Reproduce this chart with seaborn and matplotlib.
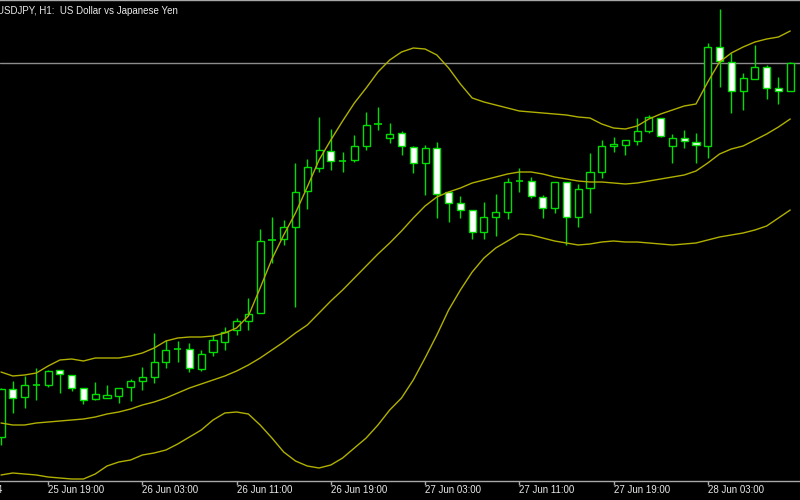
import matplotlib.pyplot as plt
import seaborn as sns
import pandas as pd
import numpy as np

# USDJPY H1 candles, 25 Jun 15:00 .. 28 Jun 06:00
opens = [101.126, 101.222, 101.206, 101.230, 101.230, 101.260, 101.250, 101.224, 101.202, 101.204,
         101.208, 101.226, 101.238, 101.246, 101.276, 101.302, 101.302, 101.262, 101.296, 101.316,
         101.340, 101.358, 101.374, 101.520, 101.522, 101.546, 101.618, 101.664, 101.698, 101.678,
         101.680, 101.708, 101.752, 101.724, 101.734, 101.706, 101.674, 101.704, 101.616, 101.594,
         101.580, 101.536, 101.566, 101.576, 101.638, 101.638, 101.606, 101.584, 101.636, 101.566,
         101.624, 101.656, 101.708, 101.710, 101.718, 101.738, 101.764, 101.708, 101.724, 101.716,
         101.708, 101.906, 101.876, 101.818, 101.842, 101.866, 101.824, 101.818]
highs = [101.224, 101.238, 101.248, 101.264, 101.260, 101.260, 101.250, 101.224, 101.236, 101.230,
         101.224, 101.242, 101.266, 101.334, 101.320, 101.318, 101.314, 101.300, 101.330, 101.346,
         101.364, 101.404, 101.542, 101.566, 101.560, 101.674, 101.682, 101.766, 101.742, 101.696,
         101.730, 101.776, 101.786, 101.754, 101.738, 101.708, 101.710, 101.716, 101.616, 101.608,
         101.580, 101.596, 101.612, 101.644, 101.664, 101.646, 101.610, 101.636, 101.636, 101.632,
         101.694, 101.720, 101.726, 101.720, 101.764, 101.770, 101.764, 101.732, 101.740, 101.734,
         101.914, 101.982, 101.894, 101.854, 101.910, 101.870, 101.846, 101.876]
lows = [101.110, 101.174, 101.184, 101.200, 101.226, 101.214, 101.218, 101.192, 101.200, 101.204,
        101.194, 101.198, 101.220, 101.234, 101.264, 101.276, 101.256, 101.258, 101.288, 101.300,
        101.330, 101.340, 101.374, 101.474, 101.510, 101.386, 101.582, 101.656, 101.660, 101.656,
        101.676, 101.700, 101.740, 101.714, 101.690, 101.654, 101.610, 101.564, 101.556, 101.564,
        101.522, 101.522, 101.528, 101.562, 101.616, 101.604, 101.564, 101.574, 101.510, 101.546,
        101.574, 101.644, 101.696, 101.690, 101.710, 101.734, 101.726, 101.674, 101.704, 101.674,
        101.684, 101.826, 101.774, 101.780, 101.842, 101.802, 101.792, 101.818]
closes = [101.222, 101.204, 101.230, 101.230, 101.258, 101.252, 101.224, 101.200, 101.212, 101.210,
          101.224, 101.238, 101.246, 101.276, 101.300, 101.302, 101.264, 101.292, 101.320, 101.336,
          101.358, 101.372, 101.518, 101.520, 101.546, 101.616, 101.666, 101.700, 101.678, 101.678,
          101.708, 101.750, 101.752, 101.732, 101.708, 101.674, 101.704, 101.612, 101.594, 101.580,
          101.536, 101.566, 101.576, 101.636, 101.638, 101.608, 101.584, 101.636, 101.566, 101.622,
          101.656, 101.708, 101.712, 101.720, 101.738, 101.766, 101.728, 101.724, 101.718, 101.710,
          101.906, 101.878, 101.818, 101.844, 101.866, 101.824, 101.818, 101.874]

# Bollinger Bands (20, 2) as drawn on the chart
bb_upper = [101.256, 101.248, 101.250, 101.254, 101.268, 101.280, 101.282, 101.278, 101.284, 101.284,
            101.284, 101.288, 101.294, 101.304, 101.318, 101.324, 101.326, 101.326, 101.328, 101.334,
            101.344, 101.368, 101.424, 101.482, 101.530, 101.574, 101.626, 101.680, 101.720, 101.758,
            101.794, 101.824, 101.856, 101.880, 101.896, 101.904, 101.902, 101.890, 101.864, 101.832,
            101.804, 101.796, 101.790, 101.784, 101.778, 101.776, 101.774, 101.772, 101.770, 101.766,
            101.764, 101.752, 101.744, 101.742, 101.748, 101.762, 101.772, 101.780, 101.788, 101.792,
            101.836, 101.876, 101.894, 101.906, 101.916, 101.922, 101.926, 101.938]
bb_middle = [101.154, 101.150, 101.150, 101.154, 101.156, 101.158, 101.160, 101.162, 101.166, 101.172,
             101.176, 101.182, 101.190, 101.196, 101.204, 101.214, 101.224, 101.232, 101.240, 101.248,
             101.258, 101.270, 101.284, 101.300, 101.316, 101.334, 101.350, 101.374, 101.398, 101.420,
             101.444, 101.468, 101.492, 101.514, 101.538, 101.564, 101.588, 101.606, 101.616, 101.624,
             101.634, 101.640, 101.646, 101.652, 101.656, 101.656, 101.652, 101.646, 101.642, 101.638,
             101.636, 101.636, 101.634, 101.632, 101.634, 101.638, 101.642, 101.646, 101.650, 101.658,
             101.674, 101.692, 101.702, 101.708, 101.720, 101.732, 101.746, 101.762]
bb_lower = [101.050, 101.054, 101.052, 101.050, 101.046, 101.044, 101.042, 101.042, 101.052, 101.068,
            101.076, 101.080, 101.090, 101.094, 101.100, 101.112, 101.126, 101.140, 101.160, 101.174,
            101.176, 101.172, 101.150, 101.124, 101.096, 101.078, 101.068, 101.064, 101.070, 101.084,
            101.104, 101.124, 101.150, 101.180, 101.204, 101.240, 101.284, 101.330, 101.380, 101.420,
            101.456, 101.484, 101.504, 101.518, 101.532, 101.530, 101.524, 101.518, 101.514, 101.510,
            101.512, 101.516, 101.518, 101.516, 101.516, 101.514, 101.512, 101.510, 101.512, 101.514,
            101.520, 101.526, 101.530, 101.534, 101.540, 101.548, 101.564, 101.580]

tick_pos = [-4, 4, 12, 20, 28, 36, 44, 52, 60]
tick_labels = ["25 Jun 2014", "25 Jun 19:00", "26 Jun 03:00", "26 Jun 11:00", "26 Jun 19:00",
               "27 Jun 03:00", "27 Jun 11:00", "27 Jun 19:00", "28 Jun 03:00"]

df = pd.DataFrame({"open": opens, "high": highs, "low": lows, "close": closes,
                   "upper": bb_upper, "middle": bb_middle, "lower": bb_lower})
df["bar"] = np.arange(len(df))

sns.set_theme(style="dark", rc={"axes.facecolor": "black", "figure.facecolor": "black"})
plt.rcParams["font.family"] = ["Liberation Sans", "DejaVu Sans"]

green = "#00dd00"
band = "#b0b000"
frame = "#a8a8a8"

fig = plt.figure(figsize=(8, 5), dpi=100)
ax = fig.add_axes([0, 0.038, 1, 0.962])

# wicks
ax.vlines(df["bar"], df["low"], df["high"], color=green, linewidth=1, zorder=2)

# bodies: bull = black, bear = white, doji = flat line
up = df["close"] >= df["open"]
body_lo = df[["open", "close"]].min(axis=1)
body_h = (df["close"] - df["open"]).abs()
doji = body_h < 0.0005
ax.bar(df["bar"][~doji], body_h[~doji], bottom=body_lo[~doji], width=0.6,
       color=np.where(up[~doji], "black", "white"), edgecolor=green, linewidth=1, zorder=3)
ax.hlines(df["close"][doji], df["bar"][doji] - 0.32, df["bar"][doji] + 0.32,
          color=green, linewidth=1.2, zorder=3)

# Bollinger bands
for col in ["upper", "middle", "lower"]:
    sns.lineplot(data=df, x="bar", y=col, color=band, linewidth=1.0, ax=ax, zorder=4)

# bid line
ax.axhline(closes[-1], color="#8c8c8c", linewidth=1, zorder=1)

ax.set_xlim(-0.085, 67.83)
ax.set_ylim(101.038, 102.0)
ax.set_xlabel("")
ax.set_ylabel("")
ax.set_yticks([])
ax.set_xticks(tick_pos[1:])
ax.set_xticklabels([])
ax.tick_params(axis="x", colors=frame, length=3, width=1, direction="out", bottom=True)
for side in ["left", "right"]:
    ax.spines[side].set_visible(False)
for side in ["top", "bottom"]:
    ax.spines[side].set_color(frame)
    ax.spines[side].set_linewidth(1)
ax.grid(False)

for pos, lab in zip(tick_pos, tick_labels):
    dx = -5 if pos < 0 else 0
    ax.annotate(lab, xy=(pos, 0), xycoords=("data", "axes fraction"), xytext=(dx, -4),
                textcoords="offset pixels", ha="left", va="top", color="#e8e8e8",
                fontsize=7, annotation_clip=False)

fig.text(-0.004, 0.978, "USDJPY, H1:  US Dollar vs Japanese Yen", ha="left", va="center",
         color="#e8e8e8", fontsize=7)

fig.savefig("out.png", dpi=100, facecolor="black")
